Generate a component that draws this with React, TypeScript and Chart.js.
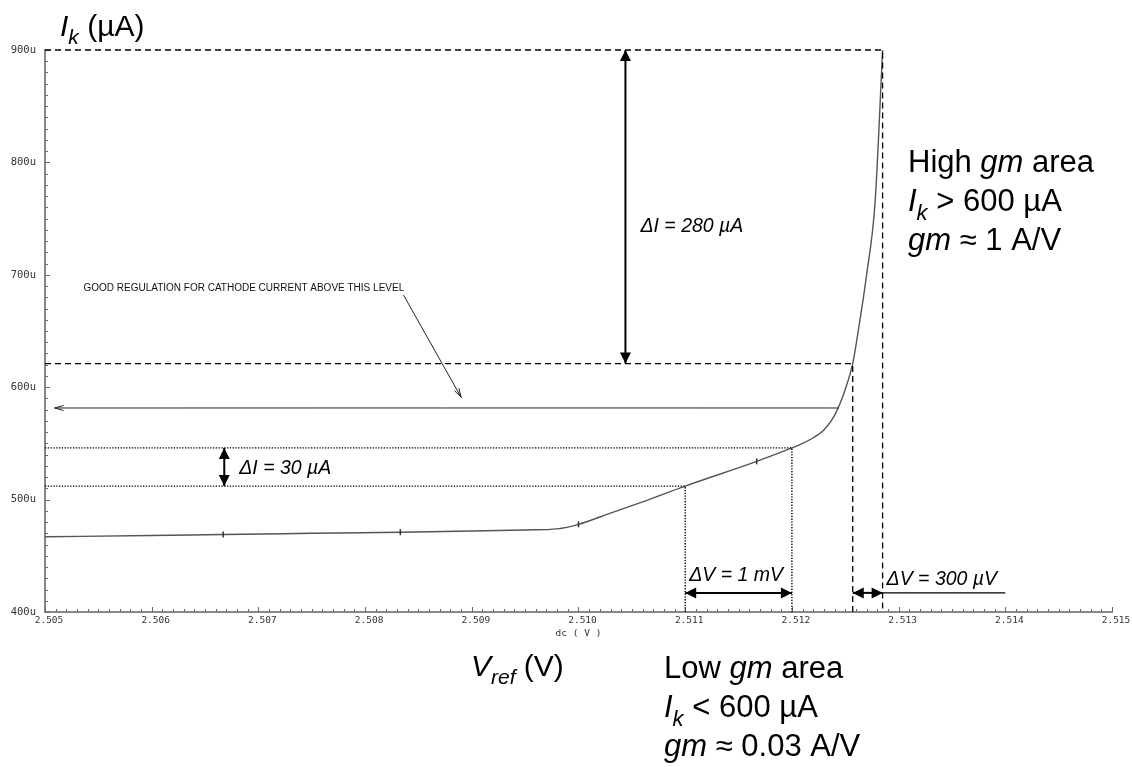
import React, { useEffect, useRef } from "react";
import { Chart, registerables } from "chart.js";

Chart.register(...registerables);

// ---------- data ----------
const X_MIN = 2.505;
const X_MAX = 2.515;
const Y_MIN = 400;
const Y_MAX = 900;
const xTickValues = [2.505, 2.506, 2.507, 2.508, 2.509, 2.51, 2.511, 2.512, 2.513, 2.514, 2.515];
const yTickValues = [400, 500, 600, 700, 800, 900];

// Vref (V) and Ik (µA)
const curveV = [2.505, 2.506, 2.50667, 2.5075, 2.50833, 2.509, 2.5095, 2.5098, 2.51, 2.5103, 2.5106, 2.511, 2.51167, 2.512, 2.5121, 2.5122, 2.5123, 2.5124, 2.5125, 2.51257, 2.51263, 2.5127, 2.51278, 2.51285];
const curveI = [467, 468, 469, 470, 471, 472, 473, 474, 478, 488, 498, 512, 534, 546, 550, 555, 562, 575, 598, 621, 655, 700, 765, 900];
const markerV = [2.50667, 2.50833, 2.51, 2.51167];

// annotation values
const lowI1 = 512; const lowI2 = 546;
const lowV1 = 2.511; const lowV2 = 2.512;
const highI1 = 621; const highI2 = 900;
const highV1 = 2.51257; const highV2 = 2.51285;
const dI280V = 2.51044;
const dI30V = 2.50668;
const dVarrowI = 417;
const dVlineEndV = 2.514;
const goodLevelI = 581.5;
const goodArrowFromV = 2.51244;
const goodArrowToV = 2.50509;
const goodTextV = 2.50536; const goodTextI = 688;
const leaderFrom = [2.50836, 682];
const leaderTo = [2.50890, 591];

const FONT = "'Liberation Sans', Arial, sans-serif";
const MONO = "'DejaVu Sans Mono', monospace";

function arrowHead(ctx: CanvasRenderingContext2D, tx: number, ty: number, fx: number, fy: number, len: number, hw: number, filled: boolean) {
  const a = Math.atan2(ty - fy, tx - fx);
  const bx = tx - len * Math.cos(a);
  const by = ty - len * Math.sin(a);
  const px = -Math.sin(a) * hw;
  const py = Math.cos(a) * hw;
  ctx.beginPath();
  if (filled) {
    ctx.moveTo(tx, ty);
    ctx.lineTo(bx + px, by + py);
    ctx.lineTo(bx - px, by - py);
    ctx.closePath();
    ctx.fill();
  } else {
    ctx.moveTo(bx + px, by + py);
    ctx.lineTo(tx, ty);
    ctx.lineTo(bx - px, by - py);
    ctx.stroke();
  }
}

function doubleArrow(ctx: CanvasRenderingContext2D, x1: number, y1: number, x2: number, y2: number) {
  ctx.save();
  ctx.setLineDash([]);
  ctx.strokeStyle = "#000";
  ctx.fillStyle = "#000";
  ctx.lineWidth = 2;
  ctx.beginPath();
  ctx.moveTo(x1, y1);
  ctx.lineTo(x2, y2);
  ctx.stroke();
  arrowHead(ctx, x1, y1, x2, y2, 11, 5.5, true);
  arrowHead(ctx, x2, y2, x1, y1, 11, 5.5, true);
  ctx.restore();
}

type Part = { t: string; it?: boolean; sub?: boolean };
function rich(ctx: CanvasRenderingContext2D, parts: Part[], x: number, y: number, size: number, subSize: number) {
  let cx = x;
  for (const p of parts) {
    const s = p.sub ? subSize : size;
    ctx.font = `${p.it ? "italic " : ""}${s}px ${FONT}`;
    ctx.fillText(p.t, cx, p.sub ? y + size * 0.28 : y);
    cx += ctx.measureText(p.t).width;
  }
}

const annotationPlugin = {
  id: "annotations",
  afterDatasetsDraw(chart: any) {
    const ctx: CanvasRenderingContext2D = chart.ctx;
    const xs = chart.scales.x;
    const ys = chart.scales.y;
    const X = (v: number) => xs.getPixelForValue(v);
    const Y = (v: number) => ys.getPixelForValue(v);
    const left = chart.chartArea.left;
    const bottom = chart.chartArea.bottom;

    ctx.save();
    // minor / major ticks (pointing inward)
    ctx.strokeStyle = "#6a6a6a";
    ctx.lineWidth = 1;
    ctx.beginPath();
    for (let i = 0; i <= 100; i++) {
      const px = Math.round(X(X_MIN + (i * (X_MAX - X_MIN)) / 100)) + 0.5;
      const len = i % 10 === 0 ? 5 : 3;
      ctx.moveTo(px, bottom);
      ctx.lineTo(px, bottom - len);
    }
    for (let i = 0; i <= 50; i++) {
      const py = Math.round(Y(Y_MIN + (i * (Y_MAX - Y_MIN)) / 50)) + 0.5;
      const len = i % 10 === 0 ? 5 : 3;
      ctx.moveTo(left, py);
      ctx.lineTo(left + len, py);
    }
    ctx.stroke();

    // dashed lines (high gm)
    ctx.strokeStyle = "#000";
    ctx.lineWidth = 1.3;
    ctx.setLineDash([6, 4]);
    ctx.beginPath();
    ctx.moveTo(left, Y(highI2));
    ctx.lineTo(X(highV2), Y(highI2));
    ctx.lineTo(X(highV2), bottom);
    ctx.moveTo(left, Y(highI1));
    ctx.lineTo(X(highV1), Y(highI1));
    ctx.lineTo(X(highV1), bottom);
    ctx.stroke();

    // dotted lines (low gm)
    ctx.setLineDash([1.3, 1.5]);
    ctx.lineWidth = 1.4;
    ctx.beginPath();
    ctx.moveTo(left, Y(lowI2));
    ctx.lineTo(X(lowV2), Y(lowI2));
    ctx.lineTo(X(lowV2), bottom);
    ctx.moveTo(left, Y(lowI1));
    ctx.lineTo(X(lowV1), Y(lowI1));
    ctx.lineTo(X(lowV1), bottom);
    ctx.stroke();
    ctx.setLineDash([]);

    // double arrows
    doubleArrow(ctx, X(dI280V), Y(highI2), X(dI280V), Y(highI1));
    doubleArrow(ctx, X(dI30V), Y(lowI2), X(dI30V), Y(lowI1));
    doubleArrow(ctx, X(lowV1), Y(dVarrowI), X(lowV2), Y(dVarrowI));
    doubleArrow(ctx, X(highV1), Y(dVarrowI), X(highV2), Y(dVarrowI));
    ctx.lineWidth = 1.3;
    ctx.beginPath();
    ctx.moveTo(X(highV2), Y(dVarrowI));
    ctx.lineTo(X(dVlineEndV), Y(dVarrowI));
    ctx.stroke();

    // good regulation arrow + leader
    ctx.lineWidth = 1;
    ctx.strokeStyle = "#222";
    ctx.beginPath();
    ctx.moveTo(X(goodArrowFromV), Y(goodLevelI));
    ctx.lineTo(X(goodArrowToV), Y(goodLevelI));
    ctx.stroke();
    arrowHead(ctx, X(goodArrowToV), Y(goodLevelI), X(goodArrowFromV), Y(goodLevelI), 9, 2.5, false);
    ctx.beginPath();
    ctx.moveTo(X(leaderFrom[0]), Y(leaderFrom[1]));
    ctx.lineTo(X(leaderTo[0]), Y(leaderTo[1]));
    ctx.stroke();
    arrowHead(ctx, X(leaderTo[0]), Y(leaderTo[1]), X(leaderFrom[0]), Y(leaderFrom[1]), 9, 2.5, false);

    ctx.fillStyle = "#111";
    ctx.textBaseline = "middle";
    ctx.textAlign = "left";
    ctx.font = `10px ${FONT}`;
    ctx.fillText("GOOD REGULATION FOR CATHODE CURRENT ABOVE THIS LEVEL", X(goodTextV), Y(goodTextI));

    // delta labels
    ctx.fillStyle = "#000";
    ctx.textBaseline = "alphabetic";
    ctx.font = `italic 19.5px ${FONT}`;
    ctx.fillText("ΔI = 280 µA", X(dI280V) + 15, 232);
    ctx.fillText("ΔI = 30 µA", X(dI30V) + 15, 474);
    ctx.fillText("ΔV = 1 mV", X(lowV1) + 4, 581);
    ctx.fillText("ΔV = 300 µV", X(highV2) + 4, 585);

    // outer labels
    rich(ctx, [{ t: "I", it: true }, { t: "k", it: true, sub: true }, { t: " (µA)" }], 60, 36, 30, 21);
    rich(ctx, [{ t: "High " }, { t: "gm", it: true }, { t: " area" }], 908, 172, 31, 22);
    rich(ctx, [{ t: "I", it: true }, { t: "k", it: true, sub: true }, { t: " > 600 µA" }], 908, 211, 31, 22);
    rich(ctx, [{ t: "gm", it: true }, { t: " ≈ 1 A/V" }], 908, 250, 31, 22);
    rich(ctx, [{ t: "V", it: true }, { t: "ref", it: true, sub: true }, { t: " (V)" }], 471, 676, 30, 21);
    rich(ctx, [{ t: "Low " }, { t: "gm", it: true }, { t: " area" }], 664, 678, 31, 22);
    rich(ctx, [{ t: "I", it: true }, { t: "k", it: true, sub: true }, { t: " < 600 µA" }], 664, 717, 31, 22);
    rich(ctx, [{ t: "gm", it: true }, { t: " ≈ 0.03 A/V" }], 664, 756, 31, 22);
    ctx.restore();
  },
};

export default function App() {
  const ref = useRef<HTMLCanvasElement | null>(null);
  useEffect(() => {
    document.body.style.margin = "0";
    const canvas = ref.current;
    if (!canvas) return;
    const data = curveV.map((v, i) => ({ x: v, y: curveI[i] }));
    const radii = curveV.map((v) => (markerV.includes(v) ? 3 : 0));
    const chart = new Chart(canvas, {
      type: "scatter",
      data: {
        datasets: [
          {
            data,
            showLine: true,
            borderColor: "#555",
            borderWidth: 1.4,
            cubicInterpolationMode: "monotone",
            pointStyle: "line",
            rotation: 90,
            pointRadius: radii,
            pointBorderColor: "#333",
            pointBorderWidth: 1.5,
            pointBackgroundColor: "#333",
          } as any,
        ],
      },
      options: {
        animation: false,
        responsive: true,
        maintainAspectRatio: false,
        events: [],
        layout: { padding: { left: 0, right: 20, top: 50, bottom: 119 } },
        plugins: { legend: { display: false }, tooltip: { enabled: false } },
        scales: {
          x: {
            type: "linear",
            min: X_MIN,
            max: X_MAX,
            afterBuildTicks: (s: any) => {
              s.ticks = xTickValues.map((v) => ({ value: v }));
            },
            afterFit: (s: any) => {
              s.height = 36;
            },
            grid: { display: false, drawTicks: false },
            border: { display: true, color: "#888", width: 2 },
            ticks: {
              autoSkip: false,
              maxRotation: 0,
              padding: 3,
              labelOffset: 4,
              color: "#333",
              font: { family: MONO, size: 9.5 },
              callback: (v: any) => Number(v).toFixed(3),
            },
            title: {
              display: true,
              text: "dc ( V )",
              color: "#333",
              font: { family: MONO, size: 9.5 },
              padding: { top: 0, bottom: 9 },
            },
          },
          y: {
            type: "linear",
            min: Y_MIN,
            max: Y_MAX,
            afterBuildTicks: (s: any) => {
              s.ticks = yTickValues.map((v) => ({ value: v }));
            },
            afterFit: (s: any) => {
              s.width = 45;
            },
            grid: { display: false, drawTicks: false },
            border: { display: true, color: "#888", width: 2 },
            ticks: {
              padding: 9,
              color: "#333",
              font: { family: MONO, size: 10.5 },
              callback: (v: any) => `${v}u`,
            },
          },
        },
      },
      plugins: [annotationPlugin],
    });
    return () => chart.destroy();
  }, []);
  return (
    <div style={{ position: "absolute", left: 0, top: 0, width: 1132, height: 767, background: "#fff" }}>
      <canvas ref={ref} />
    </div>
  );
}
